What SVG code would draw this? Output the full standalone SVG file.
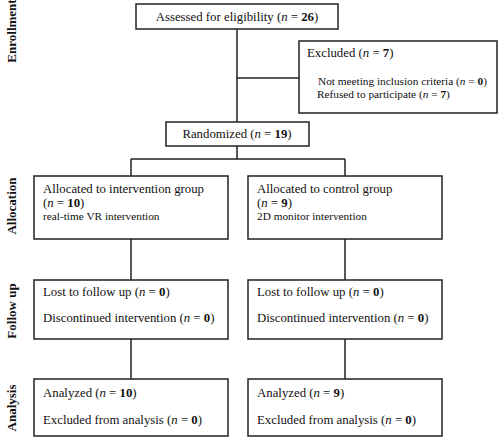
<svg xmlns="http://www.w3.org/2000/svg" width="500" height="438" viewBox="0 0 500 438">
<style>
.box{fill:#fff;stroke:#222;stroke-width:1.5}
.ln{fill:none;stroke:#222;stroke-width:1.5}
text{font-family:"Liberation Serif","Times New Roman",serif;font-size:12.8px;fill:#111}
.sm{font-size:11.3px}
.side{font-weight:bold;font-size:13px}
.b{font-weight:bold}
.i{font-style:italic}
</style>
<rect width="500" height="438" fill="#fff"/>
<g id="side-labels">
<text class="side" transform="translate(16,31) rotate(-90)" text-anchor="middle">Enrollment</text>
<text class="side" transform="translate(16,206) rotate(-90)" text-anchor="middle">Allocation</text>
<text class="side" transform="translate(16,311) rotate(-90)" text-anchor="middle">Follow up</text>
<text class="side" transform="translate(16,408) rotate(-90)" text-anchor="middle">Analysis</text>
</g>
<g id="connectors">
<path class="ln" d="M237 29V122M237 78H299M237 146V159M131 159H345M131 159V176M345 159V176M131 239V280M345 239V280M131 339V379M345 339V379"/>
</g>
<g id="assessed">
<rect class="box" x="136" y="4" width="202" height="25"/>
<text x="237" y="21" text-anchor="middle">Assessed for eligibility (<tspan class="i">n</tspan> = <tspan class="b">26</tspan>)</text>
</g>
<g id="excluded">
<rect class="box" x="299" y="41" width="198" height="72"/>
<text x="307" y="57">Excluded (<tspan class="i">n</tspan> = <tspan class="b">7</tspan>)</text>
<text x="318" y="85" class="sm">Not meeting inclusion criteria (<tspan class="i">n</tspan> = <tspan class="b">0</tspan>)</text>
<text x="317" y="98" class="sm">Refused to participate (<tspan class="i">n</tspan> = <tspan class="b">7</tspan>)</text>
</g>
<g id="randomized">
<rect class="box" x="166" y="122" width="143" height="24"/>
<text x="237" y="138" text-anchor="middle">Randomized (<tspan class="i">n</tspan> = <tspan class="b">19</tspan>)</text>
</g>
<g id="alloc-intervention">
<rect class="box" x="34" y="176" width="194" height="63"/>
<text x="43" y="193">Allocated to intervention group</text>
<text x="43" y="207">(<tspan class="i">n</tspan> = <tspan class="b">10</tspan>)</text>
<text x="43" y="220" class="sm">real-time VR intervention</text>
</g>
<g id="alloc-control">
<rect class="box" x="248" y="176" width="194" height="63"/>
<text x="257" y="193">Allocated to control group</text>
<text x="257" y="207">(<tspan class="i">n</tspan> = <tspan class="b">9</tspan>)</text>
<text x="257" y="220" class="sm">2D monitor intervention</text>
</g>
<g id="follow-intervention">
<rect class="box" x="34" y="280" width="194" height="59"/>
<text x="43" y="296">Lost to follow up (<tspan class="i">n</tspan> = <tspan class="b">0</tspan>)</text>
<text x="43" y="322">Discontinued intervention (<tspan class="i">n</tspan> = <tspan class="b">0</tspan>)</text>
</g>
<g id="follow-control">
<rect class="box" x="248" y="280" width="194" height="59"/>
<text x="257" y="296">Lost to follow up (<tspan class="i">n</tspan> = <tspan class="b">0</tspan>)</text>
<text x="257" y="322">Discontinued intervention (<tspan class="i">n</tspan> = <tspan class="b">0</tspan>)</text>
</g>
<g id="analysis-intervention">
<rect class="box" x="34" y="379" width="194" height="57"/>
<text x="43" y="397">Analyzed (<tspan class="i">n</tspan> = <tspan class="b">10</tspan>)</text>
<text x="43" y="424">Excluded from analysis (<tspan class="i">n</tspan> = <tspan class="b">0</tspan>)</text>
</g>
<g id="analysis-control">
<rect class="box" x="248" y="379" width="194" height="57"/>
<text x="257" y="397">Analyzed (<tspan class="i">n</tspan> = <tspan class="b">9</tspan>)</text>
<text x="257" y="424">Excluded from analysis (<tspan class="i">n</tspan> = <tspan class="b">0</tspan>)</text>
</g>
</svg>
